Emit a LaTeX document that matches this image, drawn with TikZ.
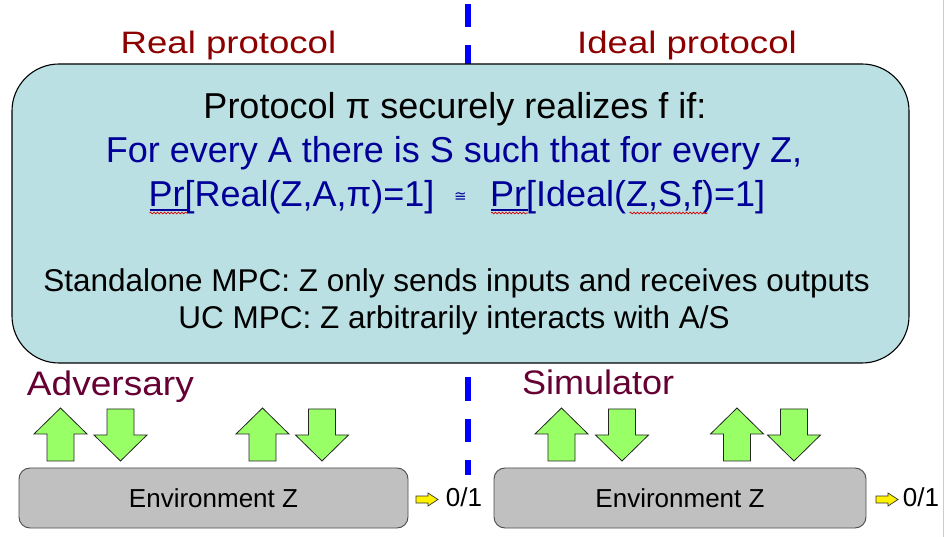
\documentclass[tikz,border=0pt]{standalone}
\usepackage{graphicx}
\usepackage{fontspec}
\setmainfont{Liberation Sans}
\newfontfamily\djv{DejaVu Sans}
\usetikzlibrary{decorations.pathmorphing}
\definecolor{boxfill}{RGB}{186,224,227}
\definecolor{navy}{RGB}{0,0,153}
\definecolor{titlered}{RGB}{140,0,0}
\definecolor{maroonc}{RGB}{102,0,51}
\definecolor{arrgreen}{RGB}{153,255,102}
\definecolor{envgray}{RGB}{192,192,192}
\definecolor{dashblue}{RGB}{0,0,255}
\tikzset{
  txt/.style={inner sep=0pt, outer sep=0pt, anchor=base},
  bigtxt/.style={txt, font=\fontsize{36}{40}\selectfont},
  midtxt/.style={txt, font=\fontsize{31.5}{36}\selectfont},
  titletxt/.style={txt, text=titlered, font=\fontsize{31}{34}\selectfont},
  roletxt/.style={txt, text=maroonc, font=\fontsize{34}{38}\selectfont},
  envbox/.style={draw=black!70, line width=0.9pt, fill=envgray, rounded corners=11pt,
    minimum height=60pt, inner sep=0pt, font=\fontsize{26}{30}\selectfont},
  mainbox/.style={draw=black, line width=1.1pt, fill=boxfill, rounded corners=47pt,
    minimum width=897pt, minimum height=299pt, inner sep=0pt},
  greenarr/.style={draw=black!85, line width=0.8pt, fill=arrgreen},
  yellowarr/.style={draw=black!80, line width=0.7pt, fill=yellow},
  squig/.style={draw=red!85!black, line width=0.7pt, decorate,
    decoration={snake, amplitude=0.9pt, segment length=3.5pt}},
  uparr/.pic={\path[greenarr] (0,0) -- (26.5,26) -- (13.5,26) -- (13.5,53) -- (-13.5,53)
      -- (-13.5,26) -- (-26.5,26) -- cycle;},
  downarr/.pic={\path[greenarr] (-13.5,0) -- (13.5,0) -- (13.5,26) -- (26.5,26) -- (0,52)
      -- (-26.5,26) -- (-13.5,26) -- cycle;},
  smallarr/.pic={\path[yellowarr] (0,-3.5) -- (12,-3.5) -- (12,-6.5) -- (22,0) -- (12,6.5)
      -- (12,3.5) -- (0,3.5) -- cycle;}
}
\begin{document}
\begin{tikzpicture}[x=1pt,y=-1pt]
\useasboundingbox (0,0) rectangle (946,537);
\fill[white] (0,0) rectangle (946,537);
% slide edge
\draw[black!20, line width=1.5pt] (943.5,0) -- (943.5,537);

% dashed separator
\coordinate (sepTop) at (468,4);
\coordinate (sepBot) at (468,475);
\draw[dashblue, line width=6pt, dash pattern=on 23.5pt off 18pt] (sepTop) -- (sepBot);

% titles
\node[titletxt] (real) at (228.5,54) {\scalebox{1.18}[1]{Real protocol}};
\node[titletxt] (ideal) at (687,54) {\scalebox{1.18}[1]{Ideal protocol}};

% main box
\node[mainbox] (main) at (460.5,213.5) {};

\node[bigtxt] (l1) at (455,119) {Protocol π securely realizes f if:};
\node[bigtxt, text=navy] (l2) at (454,163) {For every A there is S such that for every Z,};
\node[bigtxt, text=navy, anchor=base west] (l3a) at (148.5,207) {Pr[Real(Z,A,π)=1]};
\node[txt, text=navy, font=\djv\fontsize{15}{16}\selectfont] (l3b) at (460.5,202) {≅};
\node[bigtxt, text=navy, anchor=base west] (l3c) at (490,207) {Pr[Ideal(Z,S,f)=1]};
\draw[navy, line width=1.2pt] (149.5,210) -- (187,210);
\draw[navy, line width=1.2pt] (491,210) -- (528,210);
\path[squig] (149.5,213) -- (187,213);
\path[squig] (491,213) -- (528,213);
\path[squig] (629.5,213) -- (707.5,213);

\node[midtxt] (l4) at (456.5,292) {Standalone MPC: Z only sends inputs and receives outputs};
\node[midtxt] (l5) at (454,329) {UC MPC: Z arbitrarily interacts with A/S};

% roles
\node[roletxt, anchor=base west] (adv) at (27,396) {\scalebox{1.09}[1]{Adversary}};
\node[roletxt, anchor=base west] (sim) at (522,395) {\scalebox{1.06}[1]{Simulator}};

% green arrows
\pic at (60.5,408) {uparr};
\pic at (120.5,409) {downarr};
\pic at (262.5,408) {uparr};
\pic at (322,409) {downarr};
\pic at (561.5,408) {uparr};
\pic at (622,409) {downarr};
\pic at (737,408) {uparr};
\pic at (794,409) {downarr};

% environments
\node[envbox, minimum width=389pt] (env1) at (213.5,498) {Environment Z};
\node[envbox, minimum width=372pt] (env2) at (680,498) {Environment Z};

% outputs
\pic at (416,499.5) {smallarr};
\pic at (876,499.5) {smallarr};
\node[txt, font=\fontsize{26}{30}\selectfont] (out1) at (464,506) {0/1};
\node[txt, font=\fontsize{26}{30}\selectfont] (out2) at (921,506) {0/1};
\end{tikzpicture}
\end{document}
